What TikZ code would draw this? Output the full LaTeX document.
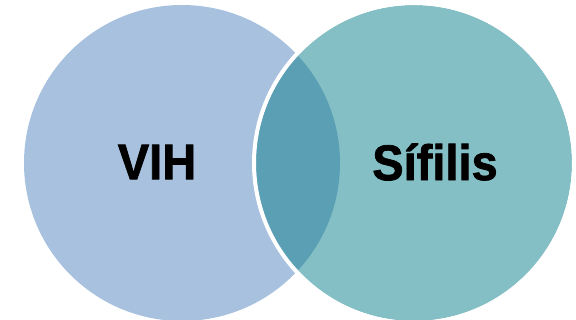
\documentclass[tikz,border=0pt]{standalone}
\usepackage{fontspec}
\setmainfont{Liberation Sans}[BoldFeatures={FakeBold=1.5,FakeStretch=0.94}]
\definecolor{vihcol}{HTML}{A8C1DF}
\definecolor{sifcol}{HTML}{84BFC5}
\definecolor{lenscol}{HTML}{5A9FB4}
\begin{document}
\begin{tikzpicture}[x=1pt,y=-1pt,
  lbl/.style={font=\fontsize{50}{60}\selectfont\bfseries, text=black, inner sep=0pt}]
\useasboundingbox (0,0) rectangle (576,320);
\fill[vihcol] (182,163) circle[radius=158];
\fill[sifcol] (414,163) circle[radius=158];
\begin{scope}
  \clip (414,163) circle[radius=158];
  \fill[lenscol] (182,163) circle[radius=158];
\end{scope}
\draw[white, line width=4] (414,163) circle[radius=160];
\node[lbl] (vih) at (157,162) {VIH};
\node[lbl] (sif) at (435,162) {Sífilis};
\end{tikzpicture}
\end{document}
